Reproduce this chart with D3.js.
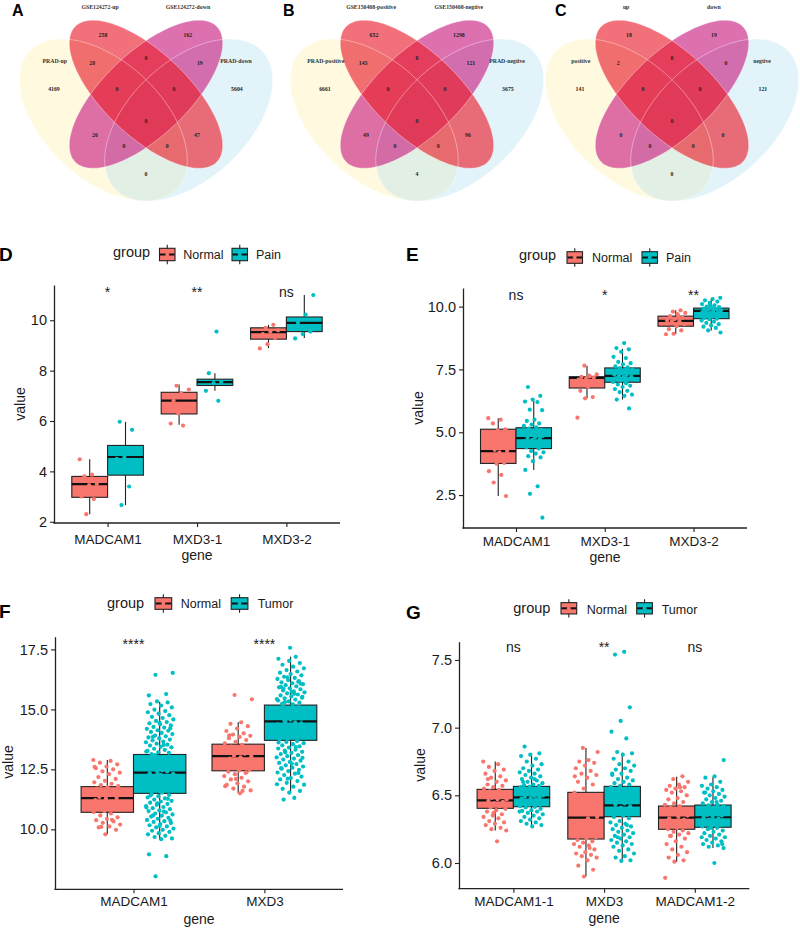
<!DOCTYPE html>
<html><head><meta charset="utf-8">
<script src="https://cdn.jsdelivr.net/npm/d3@7"></script>
<style>body{margin:0;background:#fff}svg{display:block}</style>
</head><body>
<svg id="fig" width="800" height="928"></svg>
<script>
// ---------------- DATA ----------------
// Venn diagrams: region keys (1=left big, 2=upper-left, 3=upper-right, 4=right big)
const vennRegions = ["1","2","3","4","12","23","34","123","234","1234","13","24","134","124","14"];
const vennSetsA = ["PRAD-up","GSE124272-up","GSE124272-down","PRAD-down"];
const vennCountsA = [4169,258,162,5604,20,0,19,0,0,0,26,47,0,0,0];
const vennSetsB = ["PRAD-positive","GSE150408-positive","GSE150408-negtive","PRAD-negtive"];
const vennCountsB = [6661,652,1298,3675,143,0,121,0,0,0,49,96,0,0,4];
const vennSetsC = ["positive","up","down","negtive"];
const vennCountsC = [141,18,19,121,2,0,0,0,0,0,0,0,0,0,0];

// Panel D
const genesD = ["MADCAM1","MXD3-1","MXD3-2"];
const groupsD = ["Normal","Pain"];
const sigD = ["*","**","ns"];
const yTicksD = [2,4,6,8,10];
// [lower whisker, Q1, median, Q3, upper whisker]
const boxD_Normal = [[2.3,2.97,3.49,3.8,4.48],[5.85,6.28,6.81,7.14,7.45],[8.9,9.25,9.53,9.7,9.82]];
const boxD_Pain   = [[2.66,3.85,4.57,5.03,5.97],[7.2,7.41,7.54,7.66,7.9],[9.3,9.55,9.9,10.13,11.0]];
const ptsD_Normal = [[4.48,3.87,3.8,3.5,3.45,3.0,2.9,2.3],[7.4,7.25,7.1,6.8,6.5,6.3,5.9,5.82],[9.82,9.7,9.6,9.55,9.45,9.3,9.05,8.88]];
const ptsD_Pain   = [[5.97,5.65,4.57,4.5,3.4,2.66],[9.55,7.9,7.55,7.5,7.2,6.8],[11.0,10.22,9.9,9.55,9.45,9.28]];

// Panel E
const genesE = ["MADCAM1","MXD3-1","MXD3-2"];
const groupsE = ["Normal","Pain"];
const sigE = ["ns","*","**"];
const yTicksE = [2.5,5.0,7.5,10.0];
const boxE_Normal = [[2.46,3.76,4.25,5.12,5.56],[6.35,6.76,7.16,7.21,7.65],[8.9,9.22,9.43,9.62,9.85]];
const boxE_Pain   = [[3.5,4.35,4.77,5.18,6.25],[6.3,6.99,7.24,7.56,8.32],[9.05,9.52,9.83,9.94,10.3]];
const ptsE_Normal = [
  [5.56,5.5,5.35,5.12,5.08,4.9,4.6,4.3,4.25,4.2,3.9,3.78,3.75,3.45,3.3,3.0,2.46],
  [7.65,7.3,7.25,7.2,7.18,7.15,7.1,7.05,7.0,6.9,6.8,6.65,6.4,6.35,5.58,7.22,6.95],
  [9.85,9.8,9.75,9.7,9.62,9.55,9.5,9.45,9.42,9.4,9.3,9.22,9.1,9.05,8.92,8.9,9.6]];
const ptsE_Pain = [
  [6.8,6.45,6.3,6.22,6.2,5.9,5.88,5.5,5.45,5.35,5.3,5.25,5.2,5.15,5.1,5.05,5.0,4.95,4.9,4.85,4.8,4.78,4.75,4.7,4.65,4.6,4.55,4.5,4.45,4.4,4.35,4.25,4.2,4.15,4.05,4.0,3.85,3.5,2.85,2.55,1.6],
  [8.55,8.35,8.3,8.2,8.0,7.95,7.8,7.75,7.7,7.62,7.58,7.55,7.5,7.48,7.45,7.4,7.35,7.3,7.28,7.25,7.22,7.2,7.15,7.1,7.05,7.0,6.98,6.9,6.85,6.8,6.72,6.65,6.6,6.5,6.45,6.3,5.95,7.12,7.38,6.95],
  [10.35,10.3,10.25,10.2,10.15,10.1,10.05,10.0,9.98,9.95,9.92,9.9,9.88,9.85,9.83,9.8,9.78,9.75,9.72,9.7,9.68,9.65,9.6,9.55,9.52,9.5,9.45,9.4,9.35,9.3,9.25,9.2,9.15,9.05,8.97,9.9,9.82,9.6,10.05,9.78]];

// Panel F
const genesF = ["MADCAM1","MXD3"];
const groupsF = ["Normal","Tumor"];
const sigF = ["****","****"];
const yTicksF = [10.0,12.5,15.0,17.5];
const boxF_Normal = [[9.79,10.71,11.3,11.78,12.89],[11.5,12.44,13.05,13.55,14.46]];
const boxF_Tumor  = [[9.58,11.5,12.36,13.12,15.32],[11.52,13.71,14.5,15.18,17.19]];
const ptsF_Normal = [
  [12.89,12.85,12.78,12.71,12.62,12.55,12.5,12.42,12.36,12.3,12.18,12.1,12.02,11.96,11.9,11.84,11.8,11.76,11.7,11.62,11.55,11.48,11.42,11.35,11.31,11.28,11.22,11.15,11.08,11.02,10.96,10.9,10.83,10.76,10.72,10.66,10.58,10.5,10.44,10.38,10.33,10.27,10.2,10.12,10.08,9.98,9.79,12.6,10.4,10.1],
  [15.6,15.42,14.46,14.4,14.3,14.2,14.1,14.0,13.95,13.9,13.85,13.8,13.72,13.65,13.58,13.52,13.45,13.38,13.3,13.22,13.15,13.08,13.05,13.0,12.95,12.88,12.8,12.72,12.65,12.58,12.5,12.45,12.4,12.35,12.3,12.22,12.15,12.08,12.0,11.92,11.85,11.78,11.7,11.62,11.5,13.92,12.38,12.1,11.8,11.6]];
const ptsF_Tumor = [
  [13.14,13.19,13.21,13.27,13.31,13.36,13.42,13.44,13.49,13.53,13.57,13.63,13.66,13.71,13.74,13.79,13.83,13.88,13.91,13.97,14.02,14.06,14.11,14.13,14.19,14.24,14.27,14.33,14.38,14.42,14.47,14.52,14.58,14.64,14.69,14.76,14.82,14.88,14.93,14.99,15.08,15.16,15.22,15.29,15.33,13.24,13.52,13.86,14.21,14.44,
   15.58,15.64,16.44,16.52,
   11.53,11.61,11.72,11.83,11.94,12.03,12.11,12.19,12.27,12.34,12.41,12.48,12.57,12.64,12.71,12.79,12.86,12.94,13.02,13.09,11.66,11.88,12.07,12.23,12.38,12.53,12.68,12.83,12.99,11.58,11.77,11.98,12.16,12.31,12.46,
   11.47,11.43,11.38,11.33,11.29,11.24,11.19,11.16,11.11,11.06,11.02,10.97,10.93,10.88,10.84,10.79,10.76,10.71,10.66,10.62,10.57,10.53,10.48,10.44,10.39,10.34,10.31,10.26,10.22,10.17,10.12,10.08,10.03,9.98,9.94,9.89,9.84,9.79,9.73,9.68,9.62,9.59,11.41,11.27,11.08,10.91,10.74,10.58,10.36,10.14,
   8.96,8.88,8.04],
  [15.21,15.24,15.28,15.33,15.37,15.41,15.46,15.49,15.54,15.58,15.62,15.67,15.71,15.75,15.79,15.84,15.88,15.92,15.96,16.01,16.05,16.09,16.13,16.18,16.22,16.27,16.31,16.36,16.42,16.47,16.53,16.58,16.64,16.71,16.78,16.86,16.93,17.02,17.11,17.19,15.31,15.52,15.73,15.94,16.15,16.34,15.43,15.65,15.86,16.07,
   17.57,
   13.74,13.82,13.91,13.99,14.07,14.15,14.23,14.31,14.38,14.46,14.53,14.61,14.68,14.76,14.83,14.91,14.98,15.06,15.13,13.86,14.03,14.19,14.35,14.49,14.64,14.79,14.95,15.1,13.78,13.95,14.11,14.27,14.42,14.57,14.72,
   13.68,13.64,13.59,13.55,13.5,13.46,13.41,13.37,13.32,13.28,13.23,13.19,13.14,13.09,13.05,13.0,12.95,12.91,12.86,12.81,12.77,12.72,12.67,12.62,12.57,12.53,12.48,12.43,12.37,12.32,12.26,12.2,12.14,12.08,12.01,11.94,11.86,11.78,11.69,11.6,11.53,13.62,13.43,13.21,12.98,12.74,12.55,12.35,12.11,11.88,
   11.31,11.24]];

// Panel G
const genesG = ["MADCAM1-1","MXD3","MADCAM1-2"];
const groupsG = ["Normal","Tumor"];
const sigG = ["ns","**","ns"];
const yTicksG = [6.0,6.5,7.0,7.5];
const boxG_Normal = [[6.24,6.404,6.463,6.544,6.75],[5.9,6.177,6.335,6.522,6.85],[6.01,6.249,6.335,6.421,6.637]];
const boxG_Tumor  = [[6.27,6.416,6.485,6.566,6.81],[6.015,6.342,6.426,6.566,6.815],[6.11,6.264,6.338,6.428,6.633]];
const ptsG_Normal = [
  [6.75,6.73,6.71,6.69,6.68,6.66,6.64,6.63,6.61,6.6,6.58,6.57,6.56,6.55,6.54,6.53,6.52,6.51,6.5,6.49,6.48,6.47,6.47,6.46,6.45,6.44,6.43,6.42,6.41,6.4,6.39,6.38,6.36,6.35,6.34,6.33,6.31,6.3,6.29,6.28,6.26,6.25,6.24,6.16,6.62,6.45,6.37],
  [6.85,6.82,6.76,6.75,6.74,6.72,6.7,6.68,6.66,6.65,6.63,6.6,6.58,6.55,6.52,6.5,6.48,6.45,6.42,6.4,6.38,6.36,6.34,6.33,6.31,6.29,6.27,6.25,6.23,6.21,6.19,6.18,6.17,6.16,6.15,6.14,6.13,6.12,6.1,6.08,6.07,6.06,6.05,6.04,6.02,5.98,5.95,5.9,6.64,6.11],
  [6.64,6.62,6.6,6.58,6.57,6.56,6.55,6.54,6.53,6.52,6.5,6.48,6.47,6.45,6.44,6.43,6.42,6.41,6.4,6.39,6.38,6.37,6.36,6.35,6.34,6.33,6.32,6.31,6.3,6.29,6.28,6.27,6.26,6.25,6.24,6.23,6.22,6.21,6.2,6.18,6.16,6.14,6.12,6.1,6.08,6.06,6.04,6.02,6.01,5.89,6.56,6.2]];
const ptsG_Tumor = [
  [6.86,6.81,6.8,6.79,6.77,6.75,6.73,6.72,6.7,6.69,6.68,6.67,6.66,6.65,6.64,6.63,6.62,6.61,6.6,6.59,6.58,6.575,6.57,6.565,6.56,6.55,6.545,6.54,6.53,6.52,6.515,6.51,6.5,6.495,6.49,6.485,6.48,6.475,6.47,6.46,6.455,6.45,6.44,6.435,6.43,6.42,6.415,6.41,6.4,6.39,6.385,6.38,6.37,6.36,6.35,6.34,6.33,6.32,6.31,6.3,6.29,6.28,6.27,6.6,6.5,6.45,6.38,6.62,6.52,6.43],
  [7.56,7.54,7.15,7.05,6.97,6.92,6.82,6.81,6.8,6.77,6.75,6.73,6.72,6.7,6.69,6.68,6.66,6.65,6.63,6.62,6.61,6.6,6.59,6.58,6.57,6.56,6.55,6.54,6.53,6.51,6.5,6.49,6.47,6.46,6.44,6.43,6.42,6.41,6.4,6.38,6.37,6.36,6.35,6.34,6.33,6.31,6.3,6.29,6.28,6.27,6.26,6.25,6.24,6.23,6.22,6.21,6.2,6.19,6.18,6.17,6.16,6.15,6.14,6.13,6.12,6.1,6.09,6.07,6.05,6.04,6.02,6.015,6.66,6.28,6.19],
  [6.76,6.64,6.63,6.6,6.58,6.57,6.56,6.55,6.54,6.53,6.52,6.51,6.5,6.49,6.48,6.47,6.46,6.45,6.44,6.43,6.425,6.42,6.41,6.4,6.39,6.38,6.37,6.36,6.355,6.35,6.34,6.335,6.33,6.32,6.31,6.3,6.29,6.28,6.275,6.27,6.26,6.25,6.24,6.23,6.22,6.21,6.2,6.19,6.18,6.17,6.16,6.15,6.14,6.13,6.12,6.11,6.0,6.52,6.38,6.26,6.19,6.45,6.31,6.14]];

// ---------------- STYLE / LAYOUT ----------------
const FONT = "'Liberation Sans', Arial, Helvetica, sans-serif";
const SERIF = "'Liberation Serif', 'Times New Roman', serif";
const C_NORMAL = "#F8766D", C_OTHER = "#00BFC4";
const INK = "#1a1a1a";
const svg = d3.select("#fig");

// ---------------- VENN ----------------
const vennShapes = [
  {cx:0.35, cy:0.476, a:0.36, b:0.21, rot:-45, fill:"#FFF09A", op:0.32},
  {cx:0.65, cy:0.476, a:0.36, b:0.21, rot:45,  fill:"#A6DAF0", op:0.33},
  {cx:0.50, cy:0.57, a:0.35, b:0.15, rot:45,  fill:"#C81A80", op:0.62},
  {cx:0.50, cy:0.57, a:0.35, b:0.15, rot:-45, fill:"#E9202E", op:0.64}
];
const vennLabelPos = {
  "1":[0.177,0.589],"2":[0.349,0.785],"3":[0.647,0.785],"4":[0.819,0.589],
  "12":[0.311,0.684],"23":[0.5,0.702],"34":[0.689,0.684],"123":[0.398,0.589],
  "234":[0.598,0.589],"1234":[0.5,0.473],"13":[0.321,0.422],"24":[0.679,0.422],
  "134":[0.423,0.382],"124":[0.574,0.382],"14":[0.5,0.28]
};
const vennSetPos = [[0.18,0.691],[0.339,0.887],[0.647,0.887],[0.816,0.691]];

function drawVenn(offsetX, sets, counts, letter, letterX) {
  const g = svg.append("g");
  const sx = d3.scaleLinear().domain([0,1]).range([3.5+offsetX, 288.5+offsetX]);
  const sy = d3.scaleLinear().domain([0,1]).range([251, -24]);
  const line = d3.line().x(d=>sx(d[0])).y(d=>sy(d[1])).curve(d3.curveLinearClosed);
  const ell = s => {
    const th = s.rot*Math.PI/180, pts=[];
    for (let i=0;i<160;i++){
      const t=i/160*2*Math.PI;
      pts.push([s.cx + s.a*Math.cos(t)*Math.cos(th) - s.b*Math.sin(t)*Math.sin(th),
                s.cy + s.a*Math.cos(t)*Math.sin(th) + s.b*Math.sin(t)*Math.cos(th)]);
    }
    return line(pts);
  };
  vennShapes.forEach(s => g.append("path").attr("d", ell(s)).attr("fill", s.fill).attr("fill-opacity", s.op));
  vennShapes.forEach(s => g.append("path").attr("d", ell(s)).attr("fill","none").attr("stroke","#fff").attr("stroke-opacity",0.55).attr("stroke-width",0.7));
  vennRegions.forEach((r,i) => {
    const p = vennLabelPos[r];
    g.append("text").attr("x", sx(p[0])).attr("y", sy(p[1])).attr("dy","0.35em")
      .attr("text-anchor","middle").attr("font-family",SERIF).attr("font-weight","bold")
      .attr("font-size",5.8).attr("fill","#222").text(counts[i]);
  });
  sets.forEach((s,i) => {
    const p = vennSetPos[i];
    g.append("text").attr("x", sx(p[0])).attr("y", sy(p[1])).attr("dy","0.35em")
      .attr("text-anchor","middle").attr("font-family",SERIF).attr("font-weight","bold")
      .attr("font-size",5.8).attr("fill","#333").text(s);
  });
  svg.append("text").attr("x",letterX).attr("y",15.5).attr("font-family",FONT).attr("font-weight","bold")
    .attr("font-size",16).attr("fill","#000").text(letter);
}
drawVenn(0, vennSetsA, vennCountsA, "A", 12);
drawVenn(271, vennSetsB, vennCountsB, "B", 283);
drawVenn(526, vennSetsC, vennCountsC, "C", 555);

// ---------------- BOX PANELS ----------------
function boxKey(g, x0, yc, w, h, color) {
  g.append("line").attr("x1",x0+w/2).attr("x2",x0+w/2).attr("y1",yc-h/2-3.5).attr("y2",yc+h/2+3.5)
    .attr("stroke","#222").attr("stroke-width",1.1);
  g.append("rect").attr("x",x0).attr("y",yc-h/2).attr("width",w).attr("height",h)
    .attr("fill",color).attr("stroke","#222").attr("stroke-width",1.1);
  g.append("line").attr("x1",x0+0.5).attr("x2",x0+w-0.5).attr("y1",yc).attr("y2",yc)
    .attr("stroke","#111").attr("stroke-width",2);
  g.append("circle").attr("cx",x0+w/2).attr("cy",yc).attr("r",1.9).attr("fill",color);
}

function drawBoxPanel(p) {
  const g = svg.append("g");
  const y = d3.scaleLinear().domain(p.yDomain).range(p.yRange);
  const x = d3.scalePoint().domain(p.genes).range(p.catRange);
  const [xl, xr] = p.xRange;
  const yb = p.yRange[0];
  const bw = p.boxW;
  const colors = [C_NORMAL, C_OTHER];

  // y axis
  const ya = g.append("g").attr("transform",`translate(${xl},0)`)
    .call(d3.axisLeft(y).tickValues(p.yTicks).tickFormat(d3.format(p.fmt)).tickSizeInner(4).tickSizeOuter(0).tickPadding(3));
  ya.select(".domain").attr("stroke","#222").attr("stroke-width",1.3);
  ya.selectAll(".tick line").attr("stroke","#222").attr("stroke-width",1.1);
  ya.selectAll(".tick text").attr("font-size",14.5).attr("fill",INK).attr("font-family",FONT);
  // x axis
  const xa = g.append("g").attr("transform",`translate(0,${yb})`)
    .call(d3.axisBottom(x).tickSizeInner(4).tickSizeOuter(0));
  xa.select(".domain").remove();
  xa.selectAll(".tick line").attr("stroke","#222").attr("stroke-width",1.1);
  xa.selectAll(".tick text").attr("font-size",13.5).attr("fill",INK).attr("font-family",FONT)
    .attr("y", p.xLabBase - yb).attr("dy", 0);
  g.append("line").attr("x1",xl-0.6).attr("x2",xr).attr("y1",yb).attr("y2",yb).attr("stroke","#222").attr("stroke-width",1.3);

  // axis titles
  g.append("text").attr("x",(xl+xr)/2).attr("y",p.geneBase).attr("text-anchor","middle")
    .attr("font-family",FONT).attr("font-size",14).attr("fill",INK).text("gene");
  g.append("text").attr("transform",`translate(${p.valueX},${p.valueY}) rotate(-90)`).attr("text-anchor","middle")
    .attr("font-family",FONT).attr("font-size",14).attr("fill",INK).text("value");

  // boxes
  [p.boxN, p.boxO].forEach((boxes, j) => {
    boxes.forEach((s, i) => {
      const cx = x(p.genes[i]) + (j===0 ? -bw/2 : bw/2);
      g.append("line").attr("x1",cx).attr("x2",cx).attr("y1",y(s[0])).attr("y2",y(s[4]))
        .attr("stroke","#222").attr("stroke-width",1.1);
      g.append("rect").attr("x",cx-bw/2).attr("y",y(s[3])).attr("width",bw).attr("height",y(s[1])-y(s[3]))
        .attr("fill",colors[j]).attr("stroke","#222").attr("stroke-width",1.1);
      g.append("line").attr("x1",cx-bw/2).attr("x2",cx+bw/2).attr("y1",y(s[2])).attr("y2",y(s[2]))
        .attr("stroke","#111").attr("stroke-width",2.2);
    });
  });
  // jittered points (deterministic spread within each box)
  [p.ptsN, p.ptsO].forEach((sets, j) => {
    sets.forEach((vals, i) => {
      const cx = x(p.genes[i]) + (j===0 ? -bw/2 : bw/2);
      vals.forEach((v, k) => {
        const u = ((k*0.6180339887 + i*0.37 + j*0.21) % 1) - 0.5;
        g.append("circle").attr("cx", cx + u*2*p.jit).attr("cy", y(v)).attr("r", 2.1).attr("fill", colors[j]);
      });
    });
  });
  // significance labels
  p.sig.forEach((s, i) => {
    g.append("text").attr("x", x(p.genes[i])).attr("y", y(p.sigY)).attr("text-anchor","middle")
      .attr("font-family",FONT).attr("font-size",14).attr("fill",INK).text(s);
  });
  // legend
  const L = p.legend;
  g.append("text").attr("x",L.titleX).attr("y",L.titleBase).attr("font-family",FONT).attr("font-size",14.5).attr("fill",INK).text("group");
  p.groups.forEach((gr, j) => {
    boxKey(g, L.keyX[j], L.keyYc, L.keyW, L.keyH, colors[j]);
    g.append("text").attr("x",L.labX[j]).attr("y",L.labBase).attr("font-family",FONT).attr("font-size",12.5).attr("fill",INK).text(gr);
  });
  // panel letter
  svg.append("text").attr("x",p.letterX).attr("y",p.letterBase).attr("font-family",FONT).attr("font-weight","bold")
    .attr("font-size",19).attr("fill","#000").text(p.letter);
}

drawBoxPanel({letter:"D", letterX:-1, letterBase:261,
  genes:genesD, groups:groupsD, sig:sigD, sigY:10.92, yTicks:yTicksD, fmt:"d",
  yDomain:[1.95,11.4], yRange:[523,285], xRange:[54,340], catRange:[107.6,286.4], boxW:35.8, jit:10,
  boxN:boxD_Normal, boxO:boxD_Pain, ptsN:ptsD_Normal, ptsO:ptsD_Pain,
  xLabBase:543.5, geneBase:559.8, valueX:25, valueY:404,
  legend:{titleX:113,titleBase:257,keyX:[159.5,232],keyYc:254.5,keyW:15.5,keyH:12.4,labX:[183.3,256],labBase:258.5}});

drawBoxPanel({letter:"E", letterX:406, letterBase:260.5,
  genes:genesE, groups:groupsE, sig:sigE, sigY:10.28, yTicks:yTicksE, fmt:".1f",
  yDomain:[1.19,10.74], yRange:[528,288], xRange:[463,747], catRange:[516,693.5], boxW:35.5, jit:10,
  boxN:boxE_Normal, boxO:boxE_Pain, ptsN:ptsE_Normal, ptsO:ptsE_Pain,
  xLabBase:545.5, geneBase:562, valueX:423, valueY:408,
  legend:{titleX:519,titleBase:260,keyX:[567,642],keyYc:257.5,keyW:15.5,keyH:11.6,labX:[592,666],labBase:261.7}});

drawBoxPanel({letter:"F", letterX:-1, letterBase:617.5,
  genes:genesF, groups:groupsF, sig:sigF, sigY:17.51, yTicks:yTicksF, fmt:".1f",
  yDomain:[7.5,18.03], yRange:[889.3,636.7], xRange:[55,343], catRange:[133.5,264.4], boxW:52.4, jit:14,
  boxN:boxF_Normal, boxO:boxF_Tumor, ptsN:ptsF_Normal, ptsO:ptsF_Tumor,
  xLabBase:906.5, geneBase:923.5, valueX:13, valueY:762,
  legend:{titleX:107,titleBase:607.5,keyX:[155,231.2],keyYc:603.5,keyW:16.7,keyH:11.6,labX:[180.7,257.7],labBase:608.3}});

drawBoxPanel({letter:"G", letterX:406, letterBase:618.5,
  genes:genesG, groups:groupsG, sig:sigG, sigY:7.556, yTicks:yTicksG, fmt:".1f",
  yDomain:[5.81,7.635], yRange:[888.7,641.7], xRange:[459,749.3], catRange:[513.4,694.8], boxW:36.3, jit:12,
  boxN:boxG_Normal, boxO:boxG_Tumor, ptsN:ptsG_Normal, ptsO:ptsG_Tumor,
  xLabBase:906, geneBase:922.5, valueX:425, valueY:765,
  legend:{titleX:513.3,titleBase:613,keyX:[561,636.7],keyYc:608.3,keyW:15.7,keyH:11.3,labX:[586.7,661.7],labBase:614}});

// clipped fragment of a neighbouring axis title visible in the original
svg.append("clipPath").attr("id","stray").append("rect").attr("x",340).attr("y",700).attr("width",23.5).attr("height",120);
svg.append("text").attr("clip-path","url(#stray)").attr("transform","translate(369,763) rotate(-90)")
  .attr("text-anchor","middle").attr("font-family",FONT).attr("font-size",14).attr("fill",INK).text("value");
</script>
</body></html>
